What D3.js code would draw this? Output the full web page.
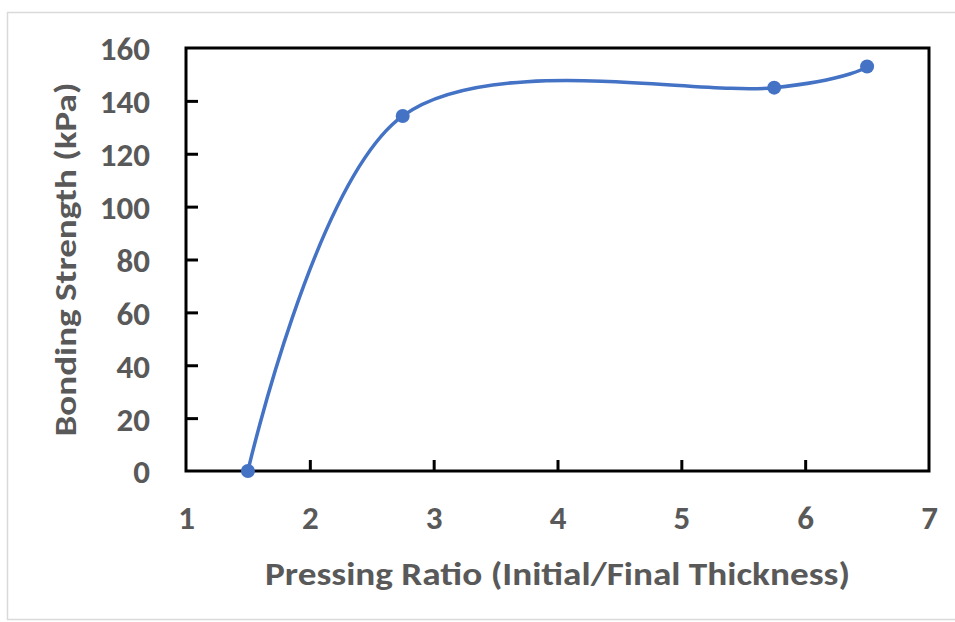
<!DOCTYPE html>
<html lang="en">
<head>
    <meta charset="UTF-8">
    <title>Bonding Strength</title>
    <script src="https://cdn.jsdelivr.net/npm/d3@7/dist/d3.min.js"></script>
    <style>
        body {
            margin: 0;
            background: #fff;
        }

        svg text {
            font-family: Carlito, Lato, "Liberation Sans", sans-serif;
            font-weight: bold;
            fill: #595959;
        }
    </style>
</head>
<body>
    <svg width="955" height="622"></svg>
<script>

    var pressingRatio = [1.5, 2.75, 5.75, 6.5],
        bondingStrength = [0, 134.3, 145, 153],
        xTicks = [1, 2, 3, 4, 5, 6, 7],
        yTicks = [0, 20, 40, 60, 80, 100, 120, 140, 160];

    var svg = d3.select('svg'),
        margin = { top: 48, right: 26, bottom: 151, left: 186 },
        chartWidth = 955 - margin.left - margin.right,
        chartHeight = 622 - margin.top - margin.bottom;

    var xScale = d3.scaleLinear().domain([1, 7]).range([0, chartWidth]),
        yScale = d3.scaleLinear().domain([0, 160]).range([chartHeight, 0]);

    // outer chart border
    svg.append('rect')
        .attr('x', 7.5)
        .attr('y', 12.5)
        .attr('width', 960)
        .attr('height', 607)
        .attr('fill', 'none')
        .attr('stroke', '#d9d9d9')
        .attr('stroke-width', 1.5);

    var chartGroup = svg.append('g')
                        .attr('transform', 'translate(' + [margin.left, margin.top] + ')');

    // frame
    chartGroup.append('rect')
        .attr('width', chartWidth)
        .attr('height', chartHeight)
        .attr('fill', 'none')
        .attr('stroke', '#000')
        .attr('stroke-width', 3);

    var xAxis = d3.axisBottom(xScale).tickValues(xTicks).tickFormat(d3.format('d'))
                    .tickSizeInner(-11).tickSizeOuter(0).tickPadding(35);
    var yAxis = d3.axisLeft(yScale).tickValues(yTicks).tickFormat(d3.format('d'))
                    .tickSizeInner(-12).tickSizeOuter(0).tickPadding(36);

    var gx = chartGroup.append('g')
        .attr('transform', 'translate(' + [0, chartHeight] + ')')
        .call(xAxis);

    var gy = chartGroup.append('g')
        .call(yAxis);

    [gx, gy].forEach(function(g) {
        g.select('.domain').remove();
        g.selectAll('.tick line').attr('stroke', '#000').attr('stroke-width', 3);
        g.selectAll('.tick text')
            .style('font-size', '33px')
            .attr('fill', '#595959');
    });
    gy.selectAll('.tick text').attr('dy', '0.36em');
    // hide tick marks at frame edges
    gx.selectAll('.tick line').filter(function(d) { return d === 1 || d === 7; }).remove();
    gy.selectAll('.tick line').filter(function(d) { return d === 0 || d === 160; }).remove();

    var points = pressingRatio.map(function(x, i) {
        return [x, bondingStrength[i]];
    });

    var line = d3.line()
        .x(function(d) { return xScale(d[0]); })
        .y(function(d) { return yScale(d[1]); })
        .curve(d3.curveCatmullRom.alpha(0));

    chartGroup.append('path')
        .attr('d', line(points))
        .attr('fill', 'none')
        .attr('stroke', '#4472c4')
        .attr('stroke-width', 3.5)
        .attr('stroke-linecap', 'round');

    chartGroup.selectAll('.dot')
        .data(points)
        .enter()
        .append('circle')
        .classed('dot', true)
        .attr('cx', function(d) { return xScale(d[0]); })
        .attr('cy', function(d) { return yScale(d[1]); })
        .attr('r', 7)
        .attr('fill', '#4472c4');

    // axis titles
    svg.append('text')
        .attr('x', margin.left + chartWidth / 2)
        .attr('y', 585)
        .attr('text-anchor', 'middle')
        .attr('textLength', 585)
        .attr('lengthAdjust', 'spacingAndGlyphs')
        .style('font-size', '32px')
        .text('Pressing Ratio (Initial/Final Thickness)');

    svg.append('text')
        .attr('transform', 'translate(76,' + (margin.top + chartHeight / 2) + ') rotate(-90)')
        .attr('text-anchor', 'middle')
        .attr('textLength', 354)
        .attr('lengthAdjust', 'spacingAndGlyphs')
        .style('font-size', '31px')
        .text('Bonding Strength (kPa)');

</script>
</body>
</html>
